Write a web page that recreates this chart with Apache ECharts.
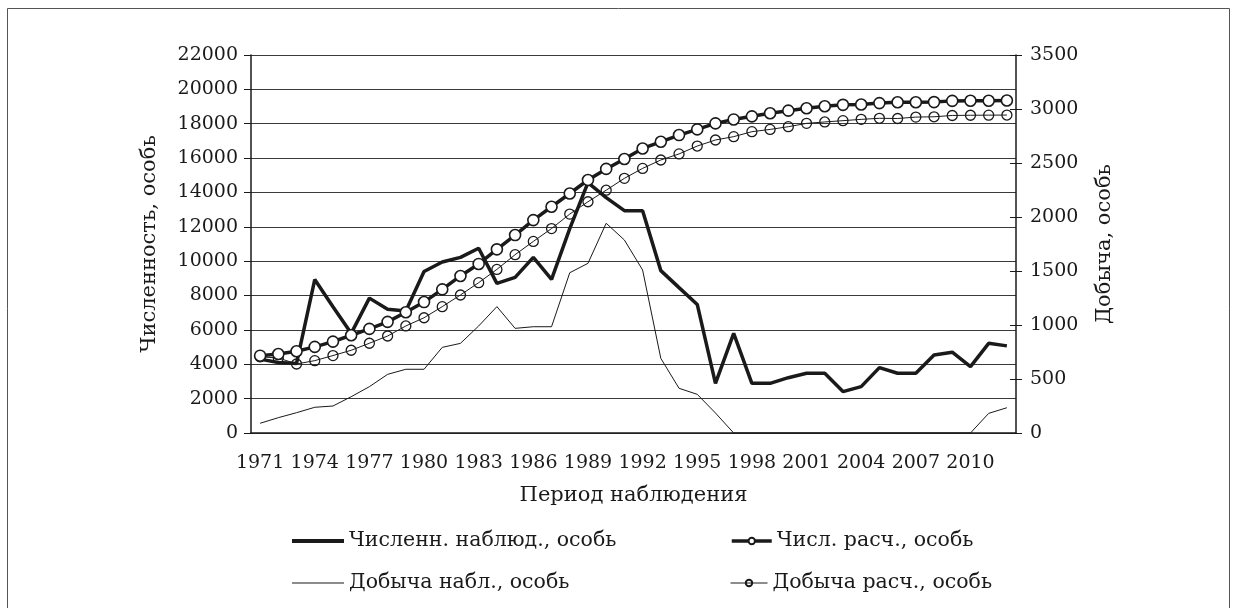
<!DOCTYPE html>
<html><head><meta charset="utf-8">
<script src="https://cdn.jsdelivr.net/npm/echarts@6/dist/echarts.min.js"></script>
<style>html,body{margin:0;padding:0;background:#fff}#c{width:1237px;height:608px}</style>
</head><body><div id="c"></div>
<script>
const years = ['1971','1972','1973','1974','1975','1976','1977','1978','1979','1980','1981','1982','1983','1984','1985','1986','1987','1988','1989','1990','1991','1992','1993','1994','1995','1996','1997','1998','1999','2000','2001','2002','2003','2004','2005','2006','2007','2008','2009','2010','2011','2012'];
const numObserved = [4300,4100,4050,8930,7350,5800,7850,7200,7100,9400,9950,10220,10750,8710,9060,10220,8940,11900,14570,13700,12940,12940,9450,8460,7480,2890,5800,2890,2890,3220,3475,3475,2410,2700,3805,3475,3475,4540,4700,3860,5220,5070];
const numCalc = [4500,4600,4760,5010,5320,5690,6060,6470,7030,7620,8360,9140,9840,10690,11520,12390,13170,13940,14725,15370,15950,16560,16950,17340,17670,18020,18250,18430,18610,18760,18900,19020,19100,19120,19200,19250,19250,19260,19330,19340,19340,19350];
const catchObserved = [90,142,188,238,250,336,429,543,590,590,793,830,991,1170,969,984,984,1484,1571,1942,1787,1509,691,414,358,185,0,0,0,0,0,0,0,0,0,0,0,0,0,0,182,234];
const catchCalc = [705,695,639,670,717,766,831,898,991,1067,1170,1278,1392,1515,1651,1774,1893,2027,2141,2248,2358,2450,2528,2584,2657,2713,2744,2790,2811,2836,2867,2880,2892,2904,2914,2912,2925,2928,2940,2942,2943,2944];

const names = ['Численн. наблюд., особь','Числ. расч., особь','Добыча набл., особь','Добыча расч., особь'];
const axisFont = 'DejaVu Serif';
const legFont = 'DejaVu Serif';
const ink = '#1a1a1a';

const chart = echarts.init(document.getElementById('c'), null, {renderer:'canvas'});
const plain = v => String(v);
const lblStyle = {color: ink, fontFamily: axisFont, fontSize: 19, formatter: plain};
const nameStyle = {color: ink, fontFamily: axisFont, fontSize: 21};
const legText = {color: ink, fontFamily: legFont, fontSize: 20.5, height: 24, lineHeight: 24};
chart.setOption({
  animation:false,
  backgroundColor:'#fff',
  graphic:[{type:'rect', shape:{x:7.5,y:8.5,width:1222,height:640}, style:{fill:'none', stroke:'#555', lineWidth:1}}],
  grid:{left:251, right:221, top:55, bottom:175},
  legend:[
    {data:[{name:names[0], icon:'rect'}], left:287, top:524, itemWidth:52, itemHeight:4, textStyle:legText},
    {data:[names[1]], left:725, top:524, itemWidth:40, itemHeight:8, lineStyle:{width:3.5}, textStyle:legText},
    {data:[{name:names[2], icon:'rect'}], left:287, top:566, itemWidth:52, itemHeight:1, textStyle:legText},
    {data:[names[3]], left:725, top:566, itemWidth:37, itemHeight:8, lineStyle:{width:1}, textStyle:legText}
  ],
  xAxis:[
    {type:'category', data:years, position:'bottom', boundaryGap:true,
     name:'Период наблюдения', nameLocation:'middle', nameGap:52,
     nameTextStyle:nameStyle,
     axisLine:{onZero:false, lineStyle:{color:ink, width:1.5}},
     axisTick:{inside:true, length:6, interval:0, lineStyle:{color:ink, width:1}},
     axisLabel:{interval:2, margin:21, color:ink, fontFamily:axisFont, fontSize:19},
     splitLine:{show:false}},
    {type:'category', data:years, position:'bottom', boundaryGap:true,
     axisLine:{show:false, onZero:false},
     axisTick:{inside:false, length:5, interval:0, lineStyle:{color:ink, width:1}},
     axisLabel:{show:false}, splitLine:{show:false}}
  ],
  yAxis:[
    {type:'value', position:'left', min:0, max:22000, interval:2000,
     name:'Численность, особь', nameLocation:'middle', nameGap:91, nameRotate:90,
     nameTextStyle:nameStyle,
     axisLine:{show:true, lineStyle:{color:ink, width:1.5}},
     axisTick:{show:true, inside:false, length:7, lineStyle:{color:ink, width:1}},
     axisLabel:Object.assign({margin:13}, lblStyle),
     splitLine:{show:true, lineStyle:{color:'#3a3a3a', width:1.2}}},
    {type:'value', position:'right', min:0, max:3500, interval:500,
     name:'Добыча, особь', nameLocation:'middle', nameGap:78, nameRotate:90,
     nameTextStyle:nameStyle,
     axisLine:{show:true, lineStyle:{color:ink, width:1.5}},
     axisTick:{show:true, inside:false, length:6, lineStyle:{color:ink, width:1}},
     axisLabel:Object.assign({margin:14}, lblStyle),
     splitLine:{show:false}},
    {type:'value', position:'right', min:0, max:3500, interval:500,
     axisLine:{show:false},
     axisTick:{show:true, inside:true, length:6, lineStyle:{color:ink, width:1}},
     axisLabel:{show:false}, splitLine:{show:false}}
  ],
  series:[
    {name:names[2], type:'line', yAxisIndex:1, data:catchObserved, symbol:'none',
     lineStyle:{color:ink, width:1}, itemStyle:{color:ink}, z:2},
    {name:names[3], type:'line', yAxisIndex:1, data:catchCalc, symbol:'circle', symbolSize:10, showSymbol:true,
     lineStyle:{color:ink, width:1}, itemStyle:{color:'rgba(255,255,255,0)', borderColor:ink, borderWidth:1.3}, z:3},
    {name:names[0], type:'line', yAxisIndex:0, data:numObserved, symbol:'none',
     lineStyle:{color:ink, width:3.5}, itemStyle:{color:ink}, z:4},
    {name:names[1], type:'line', yAxisIndex:0, data:numCalc, symbol:'circle', symbolSize:11, showSymbol:true,
     lineStyle:{color:ink, width:3.5}, itemStyle:{color:'#fff', borderColor:ink, borderWidth:1.6}, z:5}
  ]
});
</script></body></html>
